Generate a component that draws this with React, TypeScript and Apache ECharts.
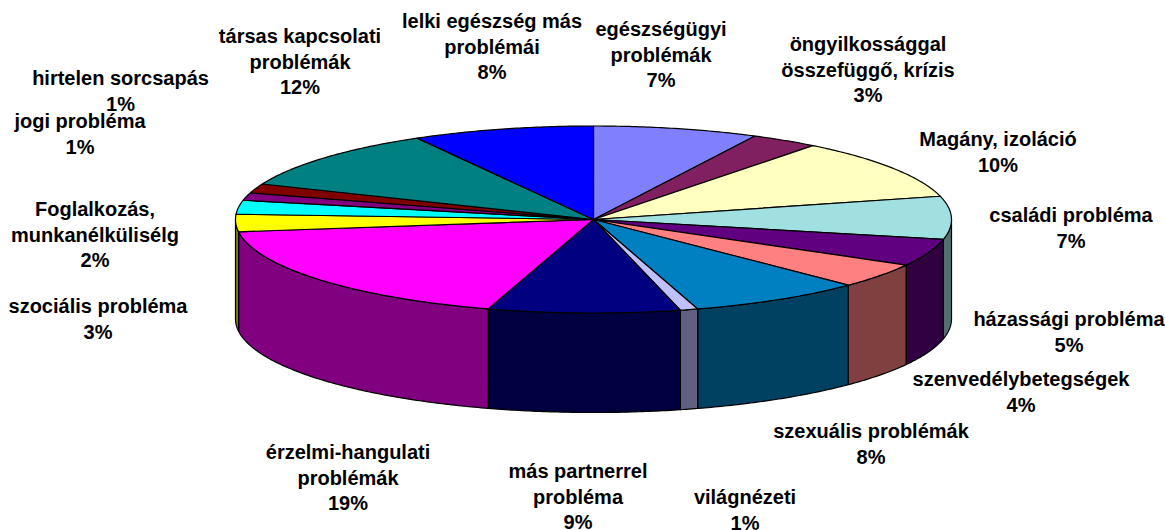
import React, { useEffect, useRef } from "react";
import * as echarts from "echarts";

const categories = [
  "egészségügyi\nproblémák",
  "öngyilkossággal\nösszefüggő, krízis",
  "Magány, izoláció",
  "családi probléma",
  "házassági probléma",
  "szenvedélybetegségek",
  "szexuális problémák",
  "világnézeti",
  "más partnerrel\nprobléma",
  "érzelmi-hangulati\nproblémák",
  "szociális probléma",
  "Foglalkozás,\nmunkanélkülisélg",
  "jogi probléma",
  "hirtelen sorcsapás",
  "társas kapcsolati\nproblémák",
  "lelki egészség más\nproblémái",
];
const percents = [7, 3, 10, 7, 5, 4, 8, 1, 9, 19, 3, 2, 1, 1, 12, 8];
const shares = [7.45, 3.05, 10.5, 7.4, 4.7, 4.3, 7.9, 0.8, 8.65, 18.15, 3.0, 2.4, 1.3, 1.6, 10.6, 8.2];
const colors = [
  "#8080FF", "#802060", "#FFFFC0", "#A0E0E0", "#600080", "#FF8080", "#0080C0", "#C0C0FF",
  "#000080", "#FF00FF", "#FFFF00", "#00FFFF", "#800080", "#800000", "#008080", "#0000FF",
];
const labelCenters: [number, number][] = [
  [661, 29], [868, 44], [998, 139], [1071, 215], [1069, 319], [1021, 379], [871, 431], [745, 497],
  [578, 471], [348, 452], [98, 306], [95, 209], [80, 121], [120.5, 78], [300, 36], [492, 21],
];

const CX = 593.5, CY = 219.5, RX = 358, RY = 93.5, DEPTH = 99.5, LINE = 25.5;
const total = shares.reduce((a, b) => a + b, 0);

function darken(hex: string) {
  const n = parseInt(hex.slice(1), 16);
  const c = (v: number) => Math.round(v / 2);
  return `rgb(${c(n >> 16)},${c((n >> 8) & 255)},${c(n & 255)})`;
}
const pt = (t: number, dy = 0): number[] => [CX + RX * Math.sin(t), CY - RY * Math.cos(t) + dy];
function arc(t0: number, t1: number, dy = 0) {
  const n = Math.max(2, Math.ceil((t1 - t0) / 0.01));
  const out: number[][] = [];
  for (let i = 0; i <= n; i++) out.push(pt(t0 + ((t1 - t0) * i) / n, dy));
  return out;
}
function angles(i: number) {
  const before = shares.slice(0, i).reduce((a, b) => a + b, 0);
  return [(before / total) * 2 * Math.PI, ((before + shares[i]) / total) * 2 * Math.PI];
}
const stroke = { stroke: "#000", lineWidth: 1.2, lineJoin: "round" as const };

function renderWall(params: any) {
  const [a, b] = angles(params.dataIndex);
  const t0 = Math.max(a, Math.PI / 2);
  const t1 = Math.min(b, (3 * Math.PI) / 2);
  if (t1 <= t0) return { type: "group", children: [] };
  return {
    type: "polygon",
    shape: { points: [...arc(t0, t1), ...arc(t0, t1, DEPTH).reverse()] },
    style: { fill: darken(colors[params.dataIndex]), ...stroke },
  };
}
function renderTop(params: any) {
  const [a, b] = angles(params.dataIndex);
  return {
    type: "polygon",
    shape: { points: [[CX, CY], ...arc(a, b)] },
    style: { fill: colors[params.dataIndex], ...stroke },
  };
}

export default function App() {
  const ref = useRef<HTMLDivElement>(null);
  useEffect(() => {
    const chart = echarts.init(ref.current!, undefined, { renderer: "svg" });
    const data = shares.map((v, i) => ({ name: categories[i], value: v }));
    chart.setOption({
      animation: false,
      backgroundColor: "#fff",
      series: [
        { type: "custom", coordinateSystem: "none", renderItem: renderWall, data, silent: true, z: 1 },
        { type: "custom", coordinateSystem: "none", renderItem: renderTop, data, silent: true, z: 2 },
      ],
      graphic: categories.map((c, i) => ({
        type: "text",
        x: labelCenters[i][0],
        y: labelCenters[i][1] - LINE / 2,
        z: 10,
        style: {
          text: `${c}\n${percents[i]}%`,
          fill: "#000",
          font: 'bold 20px "Liberation Sans", Arial, sans-serif',
          lineHeight: LINE,
          align: "center",
          verticalAlign: "top",
        },
      })),
    });
    return () => chart.dispose();
  }, []);
  return <div ref={ref} style={{ position: "fixed", left: 0, top: 0, width: 1165, height: 530 }} />;
}
